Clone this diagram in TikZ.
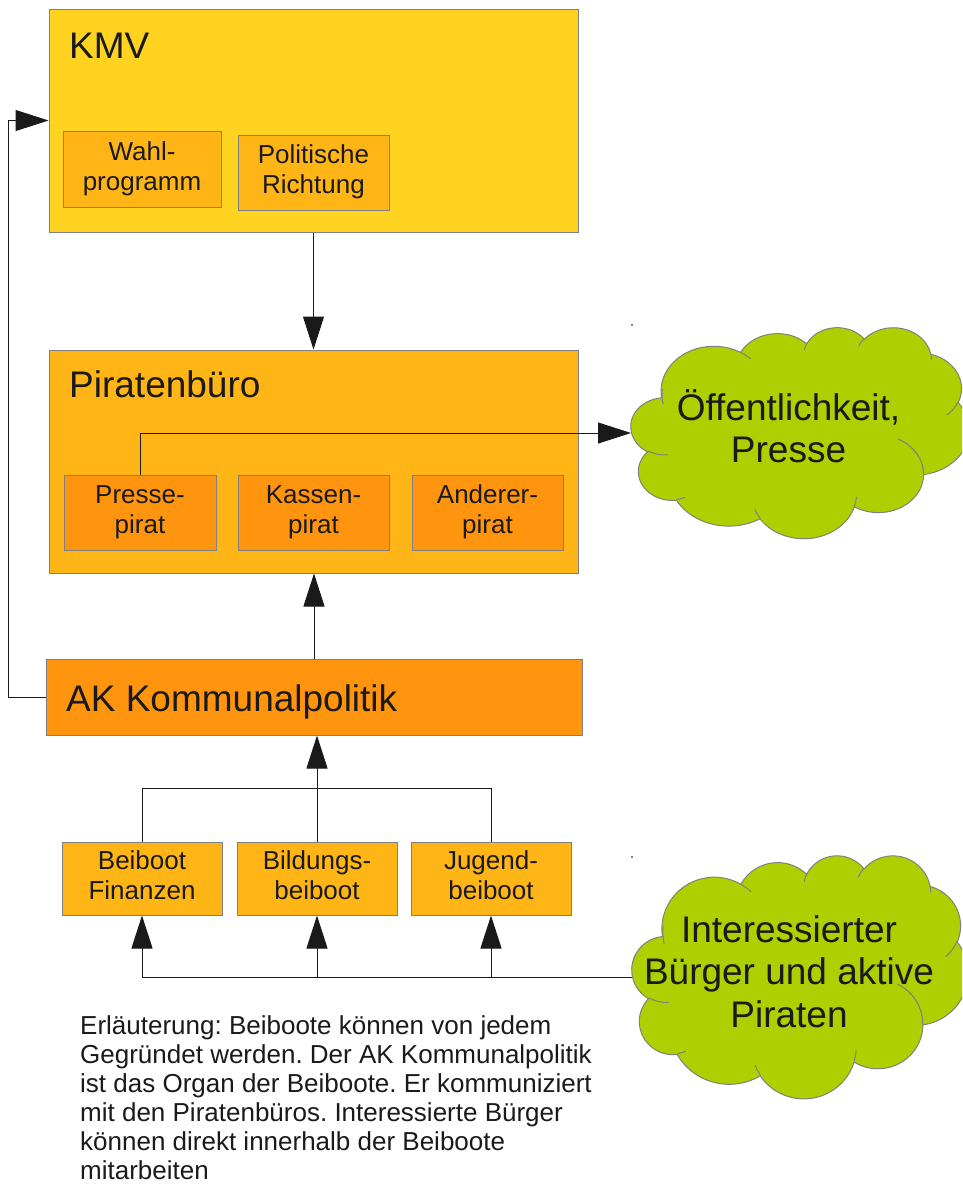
\documentclass[tikz,border=0pt]{standalone}
\usepackage{fontspec}
\setmainfont{Liberation Sans}
\usetikzlibrary{arrows.meta}
\definecolor{kmvyellow}{HTML}{FFD320}
\definecolor{lorange}{HTML}{FFB515}
\definecolor{dorange}{HTML}{FF950E}
\definecolor{cgreen}{HTML}{AECF00}
\definecolor{bordergray}{HTML}{808080}
\definecolor{ink}{HTML}{1A1A1A}
\frenchspacing
% arc with OOXML-style (visual) angles
\newcommand\ooarc[4]{arc[x radius=#1, y radius=#2, start angle={atan2(#1*sin(#3),#2*cos(#3))}, delta angle={mod(atan2(#1*sin(#3+#4),#2*cos(#3+#4))-atan2(#1*sin(#3),#2*cos(#3))+720,360)}]}
\newcommand\cloudouter{(39.00,143.70)
 \ooarc{67.53}{91.90}{-190.4875}{123.7805}
 \ooarc{53.33}{72.67}{-144.1024}{89.9452}
 \ooarc{43.65}{59.45}{-145.8079}{99.7230}
 \ooarc{48.57}{65.95}{-130.9861}{117.2417}
 \ooarc{53.33}{72.73}{-78.7089}{109.0269}
 \ooarc{67.75}{92.20}{-46.2673}{130.2690}
 \ooarc{57.85}{78.67}{0.6250}{114.0333}
 \ooarc{67.52}{92.15}{22.4516}{115.1726}
 \ooarc{77.20}{105.43}{66.2426}{75.7110}
 \ooarc{43.60}{59.18}{-274.9421}{146.7356}
 \ooarc{43.45}{59.45}{-246.8285}{152.5189} -- cycle}
\newcommand\cloudinner{(46.93,261.77) \ooarc{43.45}{59.45}{86.7420}{26.4295}
 (69.28,348.99) \ooarc{43.60}{59.18}{73.6105}{11.4475}
 (164.78,390.90) \ooarc{67.52}{92.15}{137.6242}{14.0811}
 (288.27,347.51) \ooarc{67.52}{92.15}{6.4533}{15.9984}
 (341.29,229.54) \ooarc{57.85}{78.67}{-70.2924}{70.9174}
 (417.98,153.54) \ooarc{53.33}{72.73}{30.3180}{27.7515}
 (383.24,54.26) \ooarc{48.57}{65.95}{-13.7443}{14.8589}
 (290.78,39.52) \ooarc{48.57}{65.95}{-149.1815}{18.1954}
 (221.41,47.20) \ooarc{43.65}{59.45}{-163.4943}{17.6864}
 (140.00,51.92) \ooarc{67.53}{91.90}{-66.7070}{12.3194}
 (41.27,157.89) \ooarc{67.53}{91.90}{163.0347}{26.4885}}
\newcommand\topstrut{\rule{0pt}{24pt}}
\newcommand\botstrut{\rule[-6pt]{0pt}{6pt}}
\tikzset{
  bigbox/.style={draw=bordergray, line width=1pt, inner sep=0pt},
  smallbox/.style={draw=bordergray, line width=1pt, inner sep=0pt, align=center,
    font=\fontsize{26}{29.9}\selectfont, text=ink,
    execute at begin node=\topstrut, execute at end node=\botstrut},
  titletext/.style={anchor=base west, inner sep=0pt, font=\fontsize{37}{42.5}\selectfont, text=ink},
  cloudtext/.style={inner sep=0pt, align=center, font=\fontsize{37}{42.5}\selectfont, text=ink,
    execute at begin node=\strut, execute at end node=\strut},
  expltext/.style={inner sep=0pt, align=left, font=\fontsize{26}{29}\selectfont, text=ink,
    execute at begin node=\strut},
  cloudfill/.style={fill=cgreen, draw=bordergray, line width=1pt},
  cloudmark/.style={draw=bordergray, line width=1pt},
  conn/.style={draw=ink, line width=1pt},
  arr/.style={draw=ink, line width=1pt, -{Triangle[length=33pt,width=21pt]}},
}
\begin{document}
\begin{tikzpicture}[x=1pt, y=-1pt]
\path[use as bounding box, clip] (0,0) rectangle (962,1184);
\fill[white] (0,0) rectangle (962,1184);

% KMV
\node[bigbox, fill=kmvyellow, minimum width=529pt, minimum height=223pt] (kmv) at (313.5,120.5) {};
\node[titletext] (kmvt) at (69,58) {KMV};
\node[smallbox, fill=lorange, minimum width=158pt, minimum height=76pt] (wahl) at (142,169.5) {Wahl-\\programm};
\node[smallbox, fill=lorange, minimum width=151pt, minimum height=75pt] (pol) at (313.5,172.5) {Politische\\Richtung};

% Piratenbuero
\node[bigbox, fill=lorange, minimum width=529pt, minimum height=223pt] (pb) at (313.5,461.5) {};
\node[titletext] (pbt) at (69,397) {Piratenbüro};
\node[smallbox, fill=dorange, minimum width=152pt, minimum height=75pt] (p1) at (140,512.5) {Presse-\\pirat};
\node[smallbox, fill=dorange, minimum width=151pt, minimum height=75pt] (p2) at (313.5,512.5) {Kassen-\\pirat};
\node[smallbox, fill=dorange, minimum width=151pt, minimum height=75pt] (p3) at (487.5,512.5) {Anderer-\\pirat};

% AK
\node[bigbox, fill=dorange, minimum width=536pt, minimum height=76pt] (ak) at (314,697) {};
\node[titletext] (akt) at (66,711) {AK Kommunalpolitik};

% Beiboote
\node[smallbox, fill=lorange, minimum width=160pt, minimum height=73pt] (b1) at (142,878.5) {Beiboot\\Finanzen};
\node[smallbox, fill=lorange, minimum width=160pt, minimum height=73pt] (b2) at (317,878.5) {Bildungs-\\beiboot};
\node[smallbox, fill=lorange, minimum width=160pt, minimum height=73pt] (b3) at (491,878.5) {Jugend-\\beiboot};

% Clouds
\begin{scope}[shift={(631pt,-327pt)}, x={(0.7824pt,0pt)}, y={(0pt,-0.4884pt)}]
  \path[cloudfill] \cloudouter;
  \path[cloudmark] \cloudinner;
\end{scope}
\node[cloudtext] (cl1) at (788.5,432.5) {Öffentlichkeit,\\Presse};
\coordinate (cl1w) at (631,433);

\begin{scope}[shift={(632pt,-855pt)}, x={(0.7778pt,0pt)}, y={(0pt,-0.5625pt)}]
  \path[cloudfill] \cloudouter;
  \path[cloudmark] \cloudinner;
\end{scope}
\node[cloudtext] (cl2) at (789,977.5) {Interessierter\\Bürger und aktive\\Piraten};
\coordinate (cl2w) at (632,977);

% tiny marks
\fill[bordergray] (631.3,324.3) rectangle ++(1.4,1.4);
\fill[bordergray] (631.3,856.3) rectangle ++(1.4,1.4);

% explanation
\node[expltext, anchor=north west] (expl) at (80,1015.7) {Erläuterung: Beiboote können von jedem\\Gegründet werden. Der AK Kommunalpolitik\\ist das Organ der Beiboote. Er kommuniziert\\mit den Piratenbüros. Interessierte Bürger\\können direkt innerhalb der Beiboote\\mitarbeiten};

% connectors
\draw[arr] (kmv.south) -- (pb.north);
\draw[arr] (ak.north) -- (ak.north |- pb.south);
\draw[arr] (ak.west) -- ++(-37,0) |- (kmv.west);
\draw[arr] (p1.north) |- (cl1w);
\coordinate (fork) at (b2.north |- 0,788);
\draw[conn] (b1.north) |- (fork) -| (b3.north);
\draw[arr] (b2.north) -- (b2.north |- ak.south);
\draw[arr] (cl2w) -| (b1.south);
\draw[arr] (b2.south |- cl2w) -- (b2.south);
\draw[arr] (b3.south |- cl2w) -- (b3.south);
\end{tikzpicture}
\end{document}
